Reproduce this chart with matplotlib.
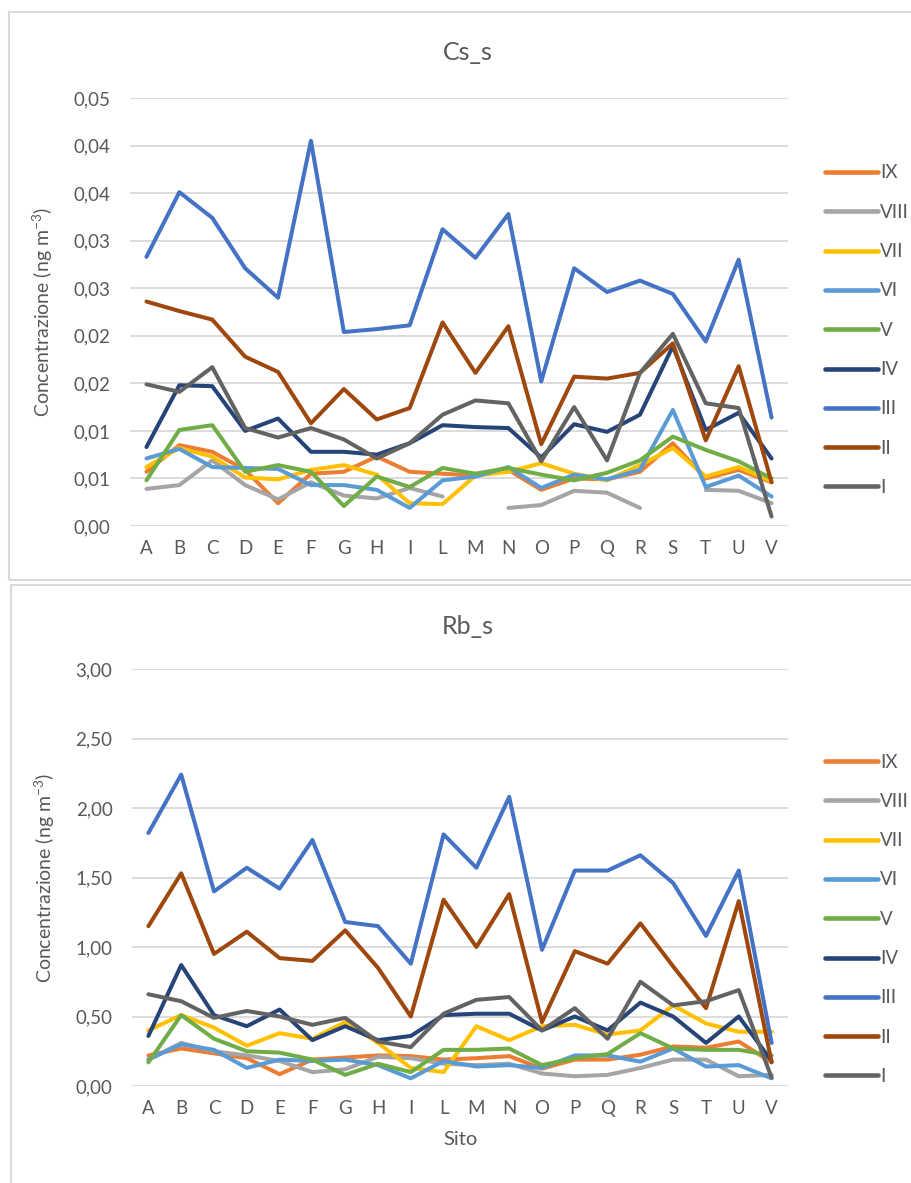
import numpy as np
import matplotlib
matplotlib.use("Agg")
import matplotlib.pyplot as plt
from matplotlib.lines import Line2D
from matplotlib.patches import Rectangle
from matplotlib.ticker import FixedLocator, FuncFormatter

plt.rcParams['font.family'] = ['Lato', 'DejaVu Sans']

nan = np.nan
sites = ['A', 'B', 'C', 'D', 'E', 'F', 'G', 'H', 'I', 'L', 'M', 'N', 'O', 'P', 'Q', 'R', 'S', 'T', 'U', 'V']
series_names = ['IX', 'VIII', 'VII', 'VI', 'V', 'IV', 'III', 'II', 'I']
series_colors = ['#ED7D31', '#A5A5A5', '#FFC000', '#5B9BD5', '#70AD47', '#264478', '#4472C4', '#9E480E', '#636363']

# Cs_s (ng m-3)
cs_IX = [0.0057, 0.0085, 0.0078, 0.0059, 0.0024, 0.0055, 0.0057, 0.0073, 0.0057, 0.0055, 0.0053, 0.0059, 0.0038, 0.0050, 0.0049, 0.0057, 0.0087, 0.0050, 0.0059, 0.0046]
cs_VIII = [0.0039, 0.0043, 0.0069, 0.0043, 0.0028, 0.0046, 0.0032, 0.0029, 0.0040, 0.0031, nan, 0.0019, 0.0022, 0.0037, 0.0035, 0.0019, nan, 0.0038, 0.0037, 0.0024]
cs_VII = [0.0062, 0.0082, 0.0073, 0.0051, 0.0049, 0.0059, 0.0064, 0.0054, 0.0024, 0.0023, 0.0053, 0.0057, 0.0066, 0.0055, 0.0048, 0.0064, 0.0082, 0.0052, 0.0062, 0.0047]
cs_VI = [0.0071, 0.0081, 0.0062, 0.0061, 0.0060, 0.0043, 0.0043, 0.0038, 0.0019, 0.0048, 0.0052, 0.0062, 0.0040, 0.0054, 0.0049, 0.0059, 0.0122, 0.0041, 0.0053, 0.0031]
cs_V = [0.0048, 0.0101, 0.0106, 0.0057, 0.0064, 0.0057, 0.0021, 0.0052, 0.0041, 0.0061, 0.0055, 0.0061, 0.0054, 0.0048, 0.0056, 0.0069, 0.0094, 0.0080, 0.0068, 0.0050]
cs_IV = [0.0083, 0.0148, 0.0147, 0.0100, 0.0113, 0.0078, 0.0078, 0.0075, 0.0087, 0.0106, 0.0104, 0.0103, 0.0072, 0.0107, 0.0099, 0.0117, 0.0189, 0.0101, 0.0119, 0.0071]
cs_III = [0.0283, 0.0351, 0.0324, 0.0271, 0.0240, 0.0405, 0.0204, 0.0207, 0.0211, 0.0312, 0.0282, 0.0328, 0.0152, 0.0271, 0.0246, 0.0258, 0.0244, 0.0194, 0.0280, 0.0114]
cs_II = [0.0236, 0.0226, 0.0217, 0.0178, 0.0162, 0.0108, 0.0144, 0.0112, 0.0124, 0.0214, 0.0161, 0.0210, 0.0086, 0.0157, 0.0155, 0.0161, 0.0192, 0.0090, 0.0168, 0.0046]
cs_I = [0.0149, 0.0141, 0.0167, 0.0103, 0.0093, 0.0103, 0.0091, 0.0071, 0.0087, 0.0117, 0.0132, 0.0129, 0.0068, 0.0125, 0.0069, 0.0161, 0.0202, 0.0129, 0.0124, 0.0010]

# Rb_s (ng m-3)
rb_IX = [0.22, 0.27, 0.235, 0.20, 0.085, 0.19, 0.205, 0.22, 0.215, 0.19, 0.20, 0.215, 0.125, 0.19, 0.19, 0.225, 0.285, 0.275, 0.32, 0.17]
rb_VIII = [0.19, 0.31, 0.25, 0.22, 0.18, 0.10, 0.12, 0.21, 0.20, 0.16, 0.15, 0.16, 0.09, 0.07, 0.08, 0.13, 0.19, 0.19, 0.07, 0.08]
rb_VII = [0.40, 0.51, 0.42, 0.29, 0.38, 0.34, 0.46, 0.31, 0.13, 0.10, 0.43, 0.33, 0.43, 0.44, 0.37, 0.40, 0.58, 0.45, 0.39, 0.39]
rb_VI = [0.19, 0.30, 0.26, 0.13, 0.19, 0.18, 0.19, 0.15, 0.055, 0.18, 0.14, 0.15, 0.13, 0.22, 0.22, 0.175, 0.27, 0.14, 0.15, 0.055]
rb_V = [0.17, 0.51, 0.34, 0.25, 0.24, 0.19, 0.08, 0.16, 0.10, 0.26, 0.26, 0.27, 0.15, 0.20, 0.23, 0.38, 0.27, 0.26, 0.26, 0.22]
rb_IV = [0.36, 0.87, 0.51, 0.43, 0.55, 0.33, 0.43, 0.33, 0.36, 0.51, 0.52, 0.52, 0.40, 0.50, 0.40, 0.60, 0.50, 0.31, 0.50, 0.18]
rb_III = [1.82, 2.24, 1.40, 1.57, 1.42, 1.77, 1.18, 1.15, 0.88, 1.81, 1.57, 2.08, 0.98, 1.55, 1.55, 1.66, 1.46, 1.08, 1.55, 0.31]
rb_II = [1.15, 1.53, 0.95, 1.11, 0.92, 0.90, 1.12, 0.85, 0.50, 1.34, 1.00, 1.38, 0.46, 0.97, 0.88, 1.17, 0.86, 0.56, 1.33, 0.17]
rb_I = [0.66, 0.61, 0.49, 0.54, 0.50, 0.44, 0.49, 0.32, 0.28, 0.52, 0.62, 0.64, 0.40, 0.56, 0.34, 0.75, 0.58, 0.61, 0.69, 0.06]

cs_series = [cs_IX, cs_VIII, cs_VII, cs_VI, cs_V, cs_IV, cs_III, cs_II, cs_I]
rb_series = [rb_IX, rb_VIII, rb_VII, rb_VI, rb_V, rb_IV, rb_III, rb_II, rb_I]

cs_ticks = [0.0, 0.005, 0.010, 0.015, 0.020, 0.025, 0.030, 0.035, 0.040, 0.045]
rb_ticks = [0.0, 0.5, 1.0, 1.5, 2.0, 2.5, 3.0]

titles = ['Cs_s', 'Rb_s']
ylabel = r'Concentrazione (ng m$^{\mathregular{-3}}$)'
xlabel = 'Sito'

W, H = 912, 1183
fig = plt.figure(figsize=(W / 100, H / 100), dpi=100)
fig.patch.set_facecolor('white')

TXT = '#595959'
GRID = '#D9D9D9'


def fmt2(v, pos=None):
    r = np.floor(v * 100 + 0.5 + 1e-9) / 100
    return f"{r:.2f}".replace('.', ',')


def px_axes(l, t, r, b):
    return fig.add_axes([l / W, 1 - b / H, (r - l) / W, (b - t) / H])


# panel frames
fig.patches.append(Rectangle((9 / W, 1 - 580 / H), (W + 5 - 9) / W, (580 - 12) / H,
                             transform=fig.transFigure, fill=False, edgecolor=GRID, lw=1.5))
fig.patches.append(Rectangle((11.5 / W, -0.01), (W + 5 - 11.5) / W, (1 - 585 / H) + 0.01,
                             transform=fig.transFigure, fill=False, edgecolor=GRID, lw=1.5))

axes_specs = [
    (px_axes(130, 98, 788, 526), cs_series, cs_ticks, (0, 0.045), 52, 169),
    (px_axes(132, 669, 788, 1086), rb_series, rb_ticks, (0, 3.0), 626, 758),
]

x = np.arange(len(sites))
for i, (ax, series, ticks, ylim, title_y, leg_y) in enumerate(axes_specs):
    for vals, name, col in zip(series, series_names, series_colors):
        ax.plot(x, vals, color=col, lw=2.9, label=name,
                solid_joinstyle='round', solid_capstyle='round')
    ax.set_xlim(-0.5, len(sites) - 0.5)
    ax.set_ylim(*ylim)
    ax.yaxis.set_major_locator(FixedLocator(ticks))
    ax.yaxis.set_major_formatter(FuncFormatter(fmt2))
    ax.set_xticks(x)
    ax.set_xticklabels(sites)
    ax.grid(axis='y', color=GRID, lw=1.3)
    ax.set_axisbelow(True)
    for s in ax.spines.values():
        s.set_visible(False)
    ax.tick_params(axis='both', length=0, colors=TXT, labelsize=13.5)
    ax.tick_params(axis='y', pad=14)
    ax.tick_params(axis='x', pad=10)
    ax.set_ylabel(ylabel, color=TXT, fontsize=14)
    ax.yaxis.set_label_coords(-0.114, 0.5)
    fig.text(468 / W, 1 - title_y / H, titles[i], ha='center', va='center',
             color=TXT, fontsize=18)
    handles = [Line2D([0], [0], color=c, lw=3.3, solid_capstyle='round') for c in series_colors]
    fig.legend(handles, series_names, loc='upper left',
               bbox_to_anchor=(818 / W, 1 - (leg_y - 12) / H), frameon=False,
               fontsize=13.5, handlelength=2.8, handletextpad=0.1,
               labelspacing=1.19, labelcolor=TXT, borderaxespad=0)

axes_specs[1][0].set_xlabel(xlabel, color=TXT, fontsize=14.5, labelpad=10)

fig.savefig('out.png', dpi=100, facecolor='white')
